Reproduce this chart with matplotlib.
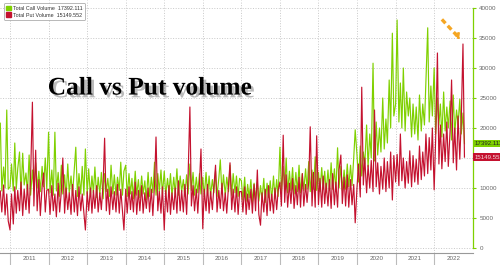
import matplotlib
matplotlib.use("Agg")
import matplotlib.pyplot as plt
import matplotlib.dates as mdates
import matplotlib.patheffects as pe
from matplotlib.patches import Patch
import numpy as np
import pandas as pd

# semi-monthly readings, thousands of contracts
dates = pd.date_range("2010-10-01", "2022-10-15", freq="SMS")

call_k = [
    # 2010 (Oct-Dec)
    20.8, 9.5, 13.5, 10.0, 23.0, 9.8,
    # 2011
    10.2, 14.0, 9.5, 17.5, 9.8, 13.2, 16.0, 9.0, 15.8, 10.5, 12.5, 9.2,
    15.5, 8.8, 13.0, 9.6, 14.2, 10.0, 12.8, 9.4, 13.6, 10.2, 15.0, 9.8,
    # 2012
    19.3, 9.2, 13.0, 8.8, 19.3, 9.5, 12.6, 8.6, 13.8, 9.0, 12.2, 8.4,
    14.0, 9.2, 12.0, 8.8, 13.2, 16.8, 8.6, 12.4, 9.0, 13.6, 8.8, 16.5,
    # 2013
    9.0, 13.2, 8.6, 12.0, 9.2, 13.5, 8.4, 11.8, 9.0, 12.6, 8.2, 12.4,
    9.4, 11.6, 8.6, 13.8, 9.0, 12.2, 8.8, 11.8, 9.6, 14.3, 8.8, 12.8,
    # 2014
    13.8, 8.6, 12.4, 9.0, 11.6, 8.2, 12.8, 8.8, 11.4, 8.4, 12.0, 9.0,
    11.2, 8.0, 12.6, 8.6, 11.8, 9.2, 14.3, 8.8, 12.4, 9.4, 13.0, 9.0,
    # 2015
    12.8, 8.8, 11.6, 9.2, 12.4, 8.6, 11.8, 9.0, 13.2, 8.8, 12.0, 9.4,
    11.4, 8.6, 12.2, 9.0, 14.0, 9.6, 12.6, 8.8, 11.8, 9.2, 12.4, 9.0,
    # 2016
    11.8, 8.6, 12.6, 9.0, 12.0, 8.8, 11.4, 9.2, 12.8, 8.6, 11.6, 14.7,
    9.0, 12.2, 8.8, 11.8, 9.4, 13.8, 8.8, 12.4, 9.2, 12.0, 8.6, 11.6,
    # 2017
    11.2, 8.0, 11.8, 7.8, 10.6, 8.4, 11.4, 7.6, 10.8, 8.2, 11.0, 7.8,
    10.4, 8.0, 11.6, 7.6, 10.8, 8.4, 11.2, 8.0, 12.0, 8.2, 11.4, 8.6,
    # 2018
    16.8, 9.4, 13.6, 9.8, 15.0, 9.2, 12.8, 9.6, 13.4, 9.0, 12.6, 9.4,
    13.8, 9.2, 12.4, 9.6, 13.2, 9.8, 14.4, 9.4, 13.0, 9.8, 15.2, 9.6,
    # 2019
    12.6, 9.4, 13.4, 9.8, 12.8, 9.2, 13.0, 9.6, 14.2, 9.8, 13.2, 9.4,
    16.7, 10.0, 13.6, 9.6, 13.0, 9.8, 14.0, 10.2, 13.8, 10.4, 15.0, 19.7,
    # 2020
    15.5, 11.0, 17.0, 12.0, 16.0, 14.0, 20.5, 13.5, 19.0, 15.0, 30.8, 14.5,
    21.0, 15.5, 20.0, 16.0, 25.0, 16.5, 21.5, 17.5, 28.0, 20.0, 35.8, 22.0,
    # 2021
    24.0, 38.0, 21.0, 27.5, 20.0, 30.0, 19.5, 26.0, 22.0, 25.0, 18.5, 24.0,
    19.0, 23.5, 18.0, 25.5, 19.5, 24.0, 20.5, 28.0, 36.7, 21.0, 27.0, 22.0,
    # 2022 (Jan-Oct)
    30.0, 19.0, 25.0, 20.5, 24.0, 18.5, 26.0, 19.5, 23.5, 20.0,
    24.5, 18.0, 25.5, 19.0, 23.0, 20.5, 24.8, 19.0, 22.5, 17.392111,
]

put_k = [
    # 2010
    9.5, 6.0, 10.5, 5.5, 9.0, 4.5,
    # 2011
    3.0, 9.0, 4.0, 10.2, 5.8, 9.6, 6.2, 11.0, 5.4, 9.8, 6.4, 10.6,
    5.8, 12.0, 24.3, 7.0, 16.3, 6.2, 11.4, 5.4, 10.2, 12.5, 6.0, 9.6,
    # 2012
    9.8, 5.6, 10.4, 6.2, 9.0, 5.2, 10.8, 6.0, 9.4, 15.0, 5.8, 10.0,
    6.4, 9.2, 5.6, 10.6, 6.0, 9.6, 5.4, 10.2, 6.2, 9.0, 5.8, 3.0,
    # 2013
    9.4, 6.2, 10.0, 5.8, 9.6, 6.6, 10.4, 6.0, 9.2, 6.4, 10.8, 18.3,
    6.2, 9.8, 5.6, 10.2, 6.4, 9.4, 6.0, 10.6, 5.8, 9.8, 6.2, 3.0,
    # 2014
    9.8, 5.8, 10.2, 6.4, 9.4, 6.0, 11.0, 5.6, 9.6, 6.2, 10.4, 5.8,
    9.2, 6.6, 10.0, 6.0, 9.8, 5.4, 10.6, 18.5, 6.2, 9.4, 5.8, 10.2,
    # 2015
    3.0, 9.6, 6.0, 10.4, 5.6, 9.2, 6.4, 10.0, 5.8, 11.2, 6.2, 9.6,
    6.0, 10.6, 5.6, 12.0, 23.5, 7.0, 10.4, 6.2, 9.8, 5.8, 11.0, 16.5,
    # 2016
    3.2, 9.8, 6.2, 10.6, 5.8, 9.4, 6.4, 10.2, 13.8, 6.0, 9.6, 6.6,
    10.8, 6.2, 9.2, 5.8, 10.4, 14.2, 6.4, 9.8, 6.0, 10.2, 5.6, 9.4,
    # 2017
    9.4, 6.0, 10.2, 5.6, 9.0, 6.4, 9.8, 5.8, 10.6, 6.2, 13.0, 5.6,
    3.8, 9.2, 6.0, 9.8, 5.4, 10.4, 6.2, 9.0, 5.8, 10.0, 6.4, 9.6,
    # 2018
    11.0, 7.0, 18.8, 7.6, 12.2, 6.8, 10.8, 7.4, 11.6, 6.6, 10.4, 7.2,
    11.8, 6.8, 12.4, 7.0, 10.6, 7.6, 11.2, 20.2, 7.0, 12.6, 6.8, 18.7,
    # 2019
    7.2, 11.6, 6.8, 12.0, 7.4, 10.8, 7.0, 11.4, 6.6, 12.4, 7.2, 11.0,
    6.8, 13.0, 15.5, 7.4, 11.8, 7.0, 12.2, 6.8, 11.4, 7.2, 10.6, 4.2,
    # 2020
    10.0, 14.0, 8.5, 26.8, 10.5, 15.0, 9.2, 13.8, 10.0, 14.6, 9.4, 23.0,
    10.2, 14.2, 9.0, 13.6, 9.8, 15.0, 9.4, 14.4, 10.0, 16.0, 8.0, 15.4,
    # 2021
    11.0, 15.6, 10.4, 19.0, 11.2, 15.0, 10.0, 14.4, 10.8, 16.2, 10.2, 15.4,
    11.0, 14.8, 10.6, 17.0, 11.4, 16.0, 12.0, 19.0, 12.4, 18.4, 13.0, 20.0,
    # 2022
    9.7, 18.0, 32.5, 14.0, 20.5, 13.2, 19.0, 14.4, 21.0, 13.6,
    19.5, 28.0, 14.2, 20.0, 13.0, 22.0, 14.8, 21.5, 34.0, 15.149552,
]

call = np.array(call_k) * 1000
put = np.array(put_k) * 1000

years = list(range(2011, 2023))
yticks = [0, 5000, 10000, 15000, 20000, 25000, 30000, 35000, 40000]

green = "#7fd000"
red = "#c4122f"
grey = "#666666"
small = "Liberation Sans"

fig = plt.figure(figsize=(5, 2.65), dpi=100)
ax = fig.add_axes([0.0, 0.0453, 0.946, 0.9547])

ax.plot(dates, call, color=green, lw=0.85)
ax.plot(dates, put, color=red, lw=0.85)

ax.set_xlim(pd.Timestamp("2010-09-28"), pd.Timestamp("2023-01-04"))
ax.set_ylim(-833, 41333)

# x axis: long separators at year starts, year names at mid-year
ax.set_xticks([pd.Timestamp(f"{y}-01-01") for y in years])
ax.set_xticks([pd.Timestamp(f"{y}-07-02") for y in years], minor=True)
ax.set_xticklabels([])
ax.set_xticklabels([str(y) for y in years], minor=True, family=small)
ax.tick_params(axis="x", which="major", length=9, color="#bbbbbb", width=0.8)
ax.tick_params(axis="x", which="minor", length=0, labelsize=4.5,
               labelcolor=grey, pad=2.5)

# y axis on the right
ax.yaxis.tick_right()
ax.set_yticks(yticks)
ax.set_yticklabels([str(v) for v in yticks], family=small)
ax.tick_params(axis="y", length=2.5, color=green, width=0.8,
               labelsize=4.5, labelcolor=grey, pad=2)

ax.grid(axis="x", which="major", color="#c8c8c8", ls=":", lw=0.7)
ax.grid(axis="y", color="#c8c8c8", ls=":", lw=0.7)

for s in ["left", "top"]:
    ax.spines[s].set_visible(False)
ax.spines["right"].set_color(green)
ax.spines["right"].set_linewidth(0.9)
ax.spines["right"].set_bounds(0, 40000)
ax.spines["bottom"].set_color("#999999")
ax.spines["bottom"].set_linewidth(0.8)

# last-value tags
tr = ax.get_yaxis_transform()
ax.text(1.003, call[-1], f"{call[-1]:.3f}", transform=tr, fontsize=4.4,
        family=small, va="center", ha="left", color="#222222", clip_on=False,
        bbox=dict(boxstyle="square,pad=0.2", fc=green, ec="none"))
ax.text(1.003, put[-1], f"{put[-1]:.3f}", transform=tr, fontsize=4.4,
        family=small, va="center", ha="left", color="#f4dde0", clip_on=False,
        bbox=dict(boxstyle="square,pad=0.2", fc=red, ec="none"))

# legend
handles = [Patch(color=green), Patch(color=red)]
labels = [f"Total Call Volume  {call[-1]:.3f}",
          f"Total Put Volume  {put[-1]:.3f}"]
leg = ax.legend(handles, labels, loc="upper left", bbox_to_anchor=(0.002, 0.998),
                prop={"family": small, "size": 3.9}, handlelength=0.9,
                handleheight=0.9, handletextpad=0.4, borderpad=0.45,
                labelspacing=0.3, frameon=True, fancybox=True,
                edgecolor="#999999", labelcolor="#333333")
leg.get_frame().set_linewidth(0.6)

# title
ax.text(0.317, 0.652, "Call vs Put volume", transform=ax.transAxes,
        ha="center", va="center", fontsize=18.3, fontweight="bold",
        family="Liberation Serif", color="black",
        path_effects=[pe.withSimplePatchShadow(offset=(2, -2), alpha=0.4,
                                               shadow_rgbFace="#555555")])

# orange dashed arrow towards the last put spike
a0 = mdates.date2num(pd.Timestamp("2022-03-15"))
a1 = mdates.date2num(pd.Timestamp("2022-08-10"))
a2 = mdates.date2num(pd.Timestamp("2022-09-01"))
ax.plot([a0, a1], [38100, 35300], color="#f5a623", lw=2.4, ls=(0, (1.6, 1.0)))
ax.annotate("", xy=(a2, 34300), xytext=(a1, 35500),
            arrowprops=dict(arrowstyle="-|>", color="#f5a623", lw=1.5,
                            mutation_scale=7))

fig.savefig("out.png", dpi=100)
